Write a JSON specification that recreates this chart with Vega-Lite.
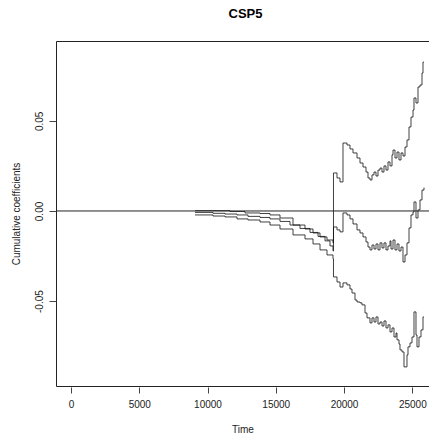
{
  "$schema": "https://vega.github.io/schema/vega-lite/v6.json",
  "autosize": {"type": "none"},
  "padding": {"left": 56, "top": 41, "right": 0, "bottom": 52},
  "width": 373,
  "height": 345,
  "background": "white",
  "title": {"text": "CSP5", "fontSize": 13, "font": "Liberation Sans", "fontWeight": "bold", "color": "black", "offset": 20, "dx": 3},
  "config": {
    "view": {"stroke": "#222", "strokeWidth": 1},
    "axis": {"grid": false, "domain": false, "tickColor": "#444", "labelFont": "Liberation Sans", "titleFont": "Liberation Sans", "labelFontSize": 10, "titleFontSize": 10, "labelColor": "#222", "titleColor": "#222", "titleFontWeight": "normal"}
  },
  "datasets": {
    "coef": [
      {"s":"est","t":9083,"v":-0.0008},{"s":"est","t":10402,"v":-0.0013},{"s":"est","t":11281,"v":-0.0017},{"s":"est","t":12160,"v":-0.0022},{"s":"est","t":12965,"v":-0.0030},{"s":"est","t":13844,"v":-0.0036},{"s":"est","t":14576,"v":-0.0044},{"s":"est","t":15309,"v":-0.0058},{"s":"est","t":16042,"v":-0.0078},{"s":"est","t":16774,"v":-0.0097},{"s":"est","t":17507,"v":-0.0119},{"s":"est","t":18093,"v":-0.0141},{"s":"est","t":18606,"v":-0.0166},{"s":"est","t":18972,"v":-0.0194},{"s":"est","t":19192,"v":-0.0222},{"s":"est","t":19228,"v":-0.0089},{"s":"est","t":19485,"v":-0.0105},{"s":"est","t":19705,"v":-0.0116},{"s":"est","t":19924,"v":-0.0011},{"s":"est","t":20217,"v":-0.0022},{"s":"est","t":20437,"v":-0.0044},{"s":"est","t":20657,"v":-0.0072},{"s":"est","t":20950,"v":-0.0105},{"s":"est","t":21169,"v":-0.0122},{"s":"est","t":21389,"v":-0.0144},{"s":"est","t":21609,"v":-0.0172},{"s":"est","t":21755,"v":-0.0200},{"s":"est","t":21902,"v":-0.0216},{"s":"est","t":22048,"v":-0.0189},{"s":"est","t":22195,"v":-0.0211},{"s":"est","t":22341,"v":-0.0183},{"s":"est","t":22488,"v":-0.0216},{"s":"est","t":22634,"v":-0.0177},{"s":"est","t":22781,"v":-0.0205},{"s":"est","t":22927,"v":-0.0177},{"s":"est","t":23074,"v":-0.0216},{"s":"est","t":23220,"v":-0.0194},{"s":"est","t":23367,"v":-0.0166},{"s":"est","t":23440,"v":-0.0211},{"s":"est","t":23587,"v":-0.0161},{"s":"est","t":23733,"v":-0.0216},{"s":"est","t":23880,"v":-0.0183},{"s":"est","t":24026,"v":-0.0222},{"s":"est","t":24173,"v":-0.0200},{"s":"est","t":24319,"v":-0.0283},{"s":"est","t":24466,"v":-0.0244},{"s":"est","t":24612,"v":-0.0177},{"s":"est","t":24759,"v":-0.0094},{"s":"est","t":24905,"v":-0.0022},{"s":"est","t":25052,"v":-0.0006},{"s":"est","t":25125,"v":0.0050},{"s":"est","t":25271,"v":-0.0039},{"s":"est","t":25418,"v":0.0006},{"s":"est","t":25564,"v":0.0061},{"s":"est","t":25711,"v":0.0116},{"s":"est","t":25857,"v":0.0130},
      {"s":"upper","t":9083,"v":0.0002},{"s":"upper","t":11061,"v":0.0002},{"s":"upper","t":11647,"v":-0.0003},{"s":"upper","t":12746,"v":-0.0011},{"s":"upper","t":13844,"v":-0.0014},{"s":"upper","t":14576,"v":-0.0022},{"s":"upper","t":15309,"v":-0.0039},{"s":"upper","t":16262,"v":-0.0078},{"s":"upper","t":17141,"v":-0.0100},{"s":"upper","t":17727,"v":-0.0122},{"s":"upper","t":18240,"v":-0.0144},{"s":"upper","t":18752,"v":-0.0161},{"s":"upper","t":19192,"v":-0.0177},{"s":"upper","t":19228,"v":0.0211},{"s":"upper","t":19485,"v":0.0183},{"s":"upper","t":19705,"v":0.0161},{"s":"upper","t":19924,"v":0.0377},{"s":"upper","t":20217,"v":0.0366},{"s":"upper","t":20437,"v":0.0344},{"s":"upper","t":20657,"v":0.0322},{"s":"upper","t":20950,"v":0.0294},{"s":"upper","t":21169,"v":0.0266},{"s":"upper","t":21389,"v":0.0244},{"s":"upper","t":21609,"v":0.0216},{"s":"upper","t":21755,"v":0.0183},{"s":"upper","t":21902,"v":0.0172},{"s":"upper","t":22048,"v":0.0200},{"s":"upper","t":22195,"v":0.0216},{"s":"upper","t":22341,"v":0.0194},{"s":"upper","t":22488,"v":0.0227},{"s":"upper","t":22634,"v":0.0238},{"s":"upper","t":22781,"v":0.0216},{"s":"upper","t":22927,"v":0.0250},{"s":"upper","t":23074,"v":0.0227},{"s":"upper","t":23220,"v":0.0272},{"s":"upper","t":23367,"v":0.0250},{"s":"upper","t":23514,"v":0.0311},{"s":"upper","t":23587,"v":0.0338},{"s":"upper","t":23733,"v":0.0294},{"s":"upper","t":23880,"v":0.0327},{"s":"upper","t":24026,"v":0.0283},{"s":"upper","t":24173,"v":0.0322},{"s":"upper","t":24319,"v":0.0305},{"s":"upper","t":24466,"v":0.0355},{"s":"upper","t":24612,"v":0.0394},{"s":"upper","t":24759,"v":0.0466},{"s":"upper","t":24905,"v":0.0521},{"s":"upper","t":25052,"v":0.0560},{"s":"upper","t":25125,"v":0.0627},{"s":"upper","t":25271,"v":0.0599},{"s":"upper","t":25418,"v":0.0688},{"s":"upper","t":25564,"v":0.0699},{"s":"upper","t":25711,"v":0.0765},{"s":"upper","t":25784,"v":0.0826},{"s":"upper","t":25857,"v":0.0826},
      {"s":"lower","t":9083,"v":-0.0022},{"s":"lower","t":10402,"v":-0.0028},{"s":"lower","t":11281,"v":-0.0033},{"s":"lower","t":12160,"v":-0.0044},{"s":"lower","t":12965,"v":-0.0050},{"s":"lower","t":13844,"v":-0.0061},{"s":"lower","t":14576,"v":-0.0078},{"s":"lower","t":15309,"v":-0.0100},{"s":"lower","t":16262,"v":-0.0133},{"s":"lower","t":17141,"v":-0.0155},{"s":"lower","t":17727,"v":-0.0183},{"s":"lower","t":18240,"v":-0.0216},{"s":"lower","t":18752,"v":-0.0244},{"s":"lower","t":19192,"v":-0.0266},{"s":"lower","t":19228,"v":-0.0366},{"s":"lower","t":19485,"v":-0.0394},{"s":"lower","t":19705,"v":-0.0422},{"s":"lower","t":19924,"v":-0.0399},{"s":"lower","t":20217,"v":-0.0410},{"s":"lower","t":20437,"v":-0.0433},{"s":"lower","t":20583,"v":-0.0455},{"s":"lower","t":20803,"v":-0.0494},{"s":"lower","t":20950,"v":-0.0505},{"s":"lower","t":21169,"v":-0.0510},{"s":"lower","t":21316,"v":-0.0521},{"s":"lower","t":21536,"v":-0.0566},{"s":"lower","t":21682,"v":-0.0593},{"s":"lower","t":21902,"v":-0.0621},{"s":"lower","t":22048,"v":-0.0593},{"s":"lower","t":22195,"v":-0.0616},{"s":"lower","t":22341,"v":-0.0588},{"s":"lower","t":22488,"v":-0.0627},{"s":"lower","t":22634,"v":-0.0616},{"s":"lower","t":22781,"v":-0.0638},{"s":"lower","t":22927,"v":-0.0610},{"s":"lower","t":23074,"v":-0.0649},{"s":"lower","t":23220,"v":-0.0632},{"s":"lower","t":23367,"v":-0.0671},{"s":"lower","t":23514,"v":-0.0649},{"s":"lower","t":23660,"v":-0.0699},{"s":"lower","t":23807,"v":-0.0677},{"s":"lower","t":23880,"v":-0.0715},{"s":"lower","t":24026,"v":-0.0738},{"s":"lower","t":24099,"v":-0.0771},{"s":"lower","t":24246,"v":-0.0782},{"s":"lower","t":24392,"v":-0.0865},{"s":"lower","t":24466,"v":-0.0865},{"s":"lower","t":24612,"v":-0.0799},{"s":"lower","t":24685,"v":-0.0754},{"s":"lower","t":24832,"v":-0.0732},{"s":"lower","t":24978,"v":-0.0699},{"s":"lower","t":25125,"v":-0.0560},{"s":"lower","t":25271,"v":-0.0688},{"s":"lower","t":25344,"v":-0.0754},{"s":"lower","t":25491,"v":-0.0699},{"s":"lower","t":25637,"v":-0.0660},{"s":"lower","t":25784,"v":-0.0588},{"s":"lower","t":25857,"v":-0.0588}
    ],
    "zero": [{"y": 0}]
  },
  "layer": [
    {
      "data": {"name": "coef"},
      "mark": {"type": "line", "interpolate": "step-after", "color": "#111", "strokeWidth": 0.8},
      "encoding": {
        "x": {"field": "t", "type": "quantitative", "scale": {"domain": [-1099, 26224], "nice": false, "zero": false},
          "axis": {"title": "Time", "values": [0, 5000, 10000, 15000, 20000, 25000], "format": "d", "tickSize": 6, "offset": 1, "labelPadding": 6, "titlePadding": 15}},
        "y": {"field": "v", "type": "quantitative", "scale": {"domain": [-0.0971, 0.0943], "nice": false, "zero": false},
          "axis": {"title": "Cumulative coefficients", "values": [-0.05, 0, 0.05], "labelExpr": "datum.value < 0 ? '-' + format(-datum.value, '.2f') : format(datum.value, '.2f')", "labelAngle": -90, "labelAlign": "center", "labelBaseline": "bottom", "tickSize": 7, "labelPadding": 5, "titlePadding": 13}},
        "detail": {"field": "s", "type": "nominal"}
      }
    },
    {
      "data": {"name": "zero"},
      "mark": {"type": "rule", "color": "#222", "strokeWidth": 1},
      "encoding": {"y": {"field": "y", "type": "quantitative"}}
    }
  ]
}
